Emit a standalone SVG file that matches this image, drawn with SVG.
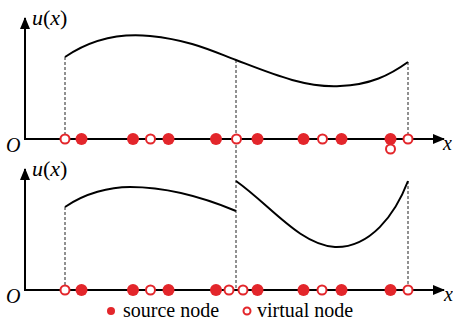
<svg xmlns="http://www.w3.org/2000/svg" width="453" height="322" viewBox="0 0 453 322">
<style>
.ax{stroke:#000;stroke-width:2;fill:none}
.cv{stroke:#000;stroke-width:2;fill:none}
.ds{stroke:#222;stroke-width:1;stroke-dasharray:3 2;fill:none}
.src{fill:#e3262b}
.vir{fill:#fff;stroke:#e3262b;stroke-width:2}
.t{font-family:"Liberation Serif","Times New Roman",serif;font-size:20px;fill:#000}
.u{font-size:22px}
.i{font-style:italic}
</style>
<defs>
<marker id="ar" markerWidth="12" markerHeight="10" refX="11" refY="5" orient="auto" markerUnits="userSpaceOnUse">
<path d="M0,0 L12,5 L0,10 Z" fill="#000"/>
</marker>
</defs>
<g id="connectors">
<line class="ds" x1="65" y1="57" x2="65" y2="139"/>
<line class="ds" x1="236" y1="60" x2="236" y2="290"/>
<line class="ds" x1="408" y1="62" x2="408" y2="139"/>
<line class="ds" x1="65" y1="207" x2="65" y2="290"/>
<line class="ds" x1="408" y1="181" x2="408" y2="290"/>
</g>
<g id="top-axes">
<line class="ax" x1="25" y1="140" x2="25" y2="18" marker-end="url(#ar)"/>
<line class="ax" x1="24" y1="139" x2="444" y2="139" marker-end="url(#ar)"/>
<text class="t u" x="32" y="25"><tspan class="i">u</tspan>(<tspan class="i">x</tspan>)</text>
<text class="t i" x="6" y="152">O</text>
<text class="t i" x="443" y="150">x</text>
</g>
<g id="top-curve">
<path class="cv" d="M65,57 C90,40 120,33 150,36 C190,40 212,51 236,60 C270,73 305,88 340,86 C370,85 390,75 408,62"/>
</g>
<g id="top-nodes">
<circle class="vir" cx="65" cy="139" r="4.5"/>
<circle class="src" cx="81.5" cy="139" r="6"/>
<circle class="src" cx="133" cy="139" r="6"/>
<circle class="vir" cx="150.5" cy="139" r="4.5"/>
<circle class="src" cx="168.5" cy="139" r="6"/>
<circle class="src" cx="216" cy="139" r="6"/>
<circle class="vir" cx="236.5" cy="139" r="4.5"/>
<circle class="src" cx="257.5" cy="139" r="6"/>
<circle class="src" cx="303.5" cy="139" r="6"/>
<circle class="vir" cx="322.5" cy="139" r="4.5"/>
<circle class="src" cx="341.5" cy="139" r="6"/>
<circle class="src" cx="390.5" cy="139" r="6"/>
<circle class="vir" cx="390.5" cy="149" r="4.5"/>
<circle class="vir" cx="408" cy="139" r="4.5"/>
</g>
<g id="bottom-axes">
<line class="ax" x1="25" y1="291" x2="25" y2="169" marker-end="url(#ar)"/>
<line class="ax" x1="24" y1="290" x2="444" y2="290" marker-end="url(#ar)"/>
<text class="t u" x="32" y="176"><tspan class="i">u</tspan>(<tspan class="i">x</tspan>)</text>
<text class="t i" x="6" y="303">O</text>
<text class="t i" x="444" y="301">x</text>
</g>
<g id="bottom-curves">
<path class="cv" d="M65,207 C85,193 110,187 130,187 C170,187 205,198 236,211"/>
<path class="cv" d="M236,181 C270,205 300,245 335,247 C370,248 395,215 408,181"/>
</g>
<g id="bottom-nodes">
<circle class="vir" cx="65" cy="290" r="4.5"/>
<circle class="src" cx="81.5" cy="290" r="6"/>
<circle class="src" cx="133" cy="290" r="6"/>
<circle class="vir" cx="150.5" cy="290" r="4.5"/>
<circle class="src" cx="168.5" cy="290" r="6"/>
<circle class="src" cx="216" cy="290" r="6"/>
<circle class="vir" cx="229" cy="290" r="4.5"/>
<circle class="vir" cx="243" cy="290" r="4.5"/>
<circle class="src" cx="257.5" cy="290" r="6"/>
<circle class="src" cx="303.5" cy="290" r="6"/>
<circle class="vir" cx="322" cy="290" r="4.5"/>
<circle class="src" cx="341.5" cy="290" r="6"/>
<circle class="src" cx="390.5" cy="290" r="6"/>
<circle class="vir" cx="408" cy="290" r="4.5"/>
</g>
<g id="legend">
<circle class="src" cx="111" cy="311" r="4"/>
<text class="t" x="123" y="317">source node</text>
<circle class="vir" cx="247" cy="311" r="3.5" stroke-width="1.8"/>
<text class="t" x="257" y="317">virtual node</text>
</g>
</svg>
